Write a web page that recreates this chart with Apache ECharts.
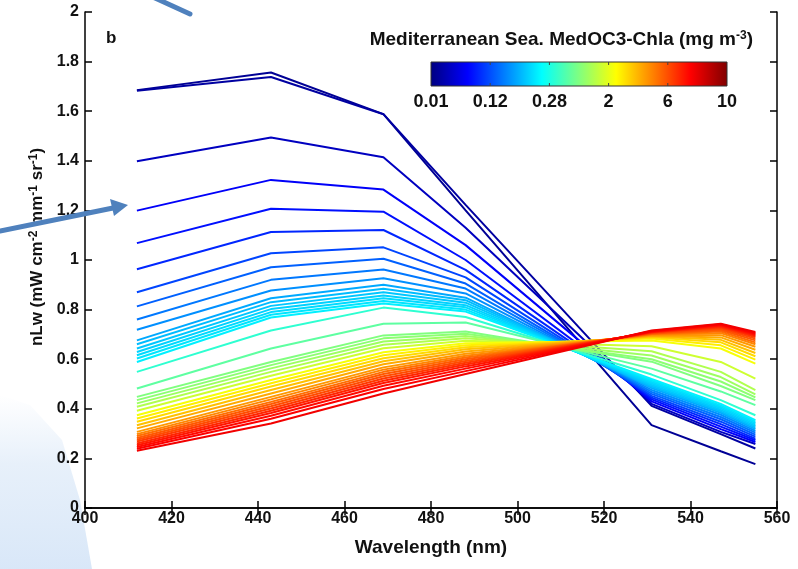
<!DOCTYPE html>
<html>
<head>
<meta charset="utf-8">
<script src="https://cdn.jsdelivr.net/npm/echarts@6/dist/echarts.min.js"></script>
<style>
    html, body { margin: 0; padding: 0; background: #fff; }
    #chart { width: 798px; height: 569px; }
</style>
</head>
<body>
<div id="chart"></div>
<script>
// MODIS bands (nm)
var wavelengths = [412, 443, 469, 488, 531, 547, 555];

// MedOC3 chlorophyll of each spectrum (mg m-3), clearest first
var chla = [0.013, 0.015, 0.022, 0.044, 0.057, 0.075, 0.11, 0.13, 0.144, 0.158,
    0.176, 0.191, 0.2, 0.209, 0.216, 0.226, 0.237, 0.34, 0.54, 0.75,
    0.85, 1.0, 1.2, 1.6, 2.2, 2.5, 2.8, 3.2, 3.6, 4.0,
    4.4, 5.0, 5.6, 6.0, 6.3, 6.6, 6.9, 7.1, 7.3, 7.5];

// nLw read at each band, same order as chla
var nlw412 = [1.685, 1.682, 1.398, 1.199, 1.068, 0.963, 0.870, 0.813, 0.760, 0.719,
    0.676, 0.660, 0.643, 0.629, 0.616, 0.603, 0.589, 0.549, 0.482, 0.448,
    0.435, 0.422, 0.408, 0.392, 0.374, 0.361, 0.348, 0.334, 0.321, 0.307,
    0.298, 0.290, 0.282, 0.275, 0.268, 0.260, 0.253, 0.246, 0.239, 0.231];
var nlw443 = [1.756, 1.738, 1.494, 1.323, 1.207, 1.113, 1.027, 0.971, 0.920, 0.877,
    0.846, 0.830, 0.815, 0.802, 0.790, 0.779, 0.768, 0.716, 0.643, 0.589,
    0.576, 0.563, 0.549, 0.533, 0.516, 0.503, 0.490, 0.476, 0.462, 0.448,
    0.438, 0.428, 0.419, 0.410, 0.401, 0.392, 0.383, 0.372, 0.360, 0.341];
var nlw469 = [1.588, 1.588, 1.414, 1.284, 1.195, 1.121, 1.051, 1.005, 0.962, 0.926,
    0.900, 0.884, 0.870, 0.857, 0.846, 0.835, 0.825, 0.808, 0.743, 0.696,
    0.684, 0.671, 0.658, 0.644, 0.628, 0.616, 0.604, 0.592, 0.580, 0.567,
    0.558, 0.549, 0.540, 0.531, 0.522, 0.513, 0.504, 0.493, 0.480, 0.462];
var nlw488 = [1.200, 1.222, 1.130, 1.060, 1.000, 0.960, 0.930, 0.905, 0.885, 0.865,
    0.848, 0.838, 0.828, 0.818, 0.809, 0.800, 0.792, 0.770, 0.748, 0.712,
    0.703, 0.694, 0.684, 0.674, 0.664, 0.656, 0.648, 0.640, 0.631, 0.622,
    0.614, 0.607, 0.600, 0.593, 0.586, 0.579, 0.571, 0.562, 0.552, 0.540];
var nlw531 = [0.334, 0.412, 0.420, 0.430, 0.438, 0.445, 0.452, 0.460, 0.468, 0.476,
    0.484, 0.490, 0.496, 0.502, 0.508, 0.514, 0.520, 0.538, 0.562, 0.590,
    0.600, 0.615, 0.632, 0.652, 0.675, 0.683, 0.688, 0.692, 0.695, 0.698,
    0.700, 0.702, 0.704, 0.706, 0.708, 0.709, 0.711, 0.712, 0.714, 0.716];
var nlw547 = [0.229, 0.298, 0.307, 0.318, 0.328, 0.338, 0.348, 0.358, 0.367, 0.376,
    0.384, 0.390, 0.396, 0.402, 0.408, 0.414, 0.420, 0.435, 0.470, 0.492,
    0.510, 0.528, 0.549, 0.589, 0.643, 0.656, 0.668, 0.678, 0.688, 0.697,
    0.705, 0.712, 0.718, 0.723, 0.728, 0.732, 0.736, 0.739, 0.741, 0.743];
var nlw555 = [0.177, 0.240, 0.258, 0.266, 0.273, 0.280, 0.288, 0.296, 0.304, 0.311,
    0.318, 0.324, 0.330, 0.336, 0.342, 0.348, 0.354, 0.374, 0.415, 0.435,
    0.446, 0.458, 0.475, 0.522, 0.582, 0.598, 0.612, 0.625, 0.638, 0.650,
    0.660, 0.668, 0.676, 0.683, 0.689, 0.694, 0.698, 0.702, 0.706, 0.710];

// colorbar ticks (equally spaced on the bar)
var cbarValues = [0.01, 0.12, 0.28, 2, 6, 10];
var cbarLabels = ['0.01', '0.12', '0.28', '2', '6', '10'];

(function (window) {
    var FONT = '"Liberation Sans", Arial, Helvetica, sans-serif';
    var bands = [nlw412, nlw443, nlw469, nlw488, nlw531, nlw547, nlw555];

    // position on the colorbar (0..1), log-interpolated between the ticks
    function barPos(c) {
        var n = cbarValues.length - 1;
        if (c <= cbarValues[0]) return 0;
        for (var i = 0; i < n; i++) {
            var a = cbarValues[i], b = cbarValues[i + 1];
            if (c <= b) {
                var f = Math.log(c / a) / Math.log(b / a);
                return (i + f) / n;
            }
        }
        return 1;
    }

    function jet(p) {
        function cl(v) { return Math.max(0, Math.min(1, v)); }
        var r = cl(1.5 - Math.abs(4 * p - 3));
        var g = cl(1.5 - Math.abs(4 * p - 2));
        var b = cl(1.5 - Math.abs(4 * p - 1));
        return 'rgb(' + Math.round(r * 255) + ',' + Math.round(g * 255) + ',' + Math.round(b * 255) + ')';
    }

    var series = chla.map(function (c, i) {
        return {
            type: 'line',
            name: 'chl ' + c,
            data: wavelengths.map(function (w, j) { return [w, bands[j][i]]; }),
            showSymbol: false,
            silent: true,
            lineStyle: { width: 2, color: jet(barPos(c)) },
            z: 2 + i
        };
    });

    // colorbar geometry
    var bar = { x: 431, y: 62, w: 296, h: 24 };
    var stops = [];
    for (var k = 0; k <= 32; k++) {
        stops.push({ offset: k / 32, color: jet(k / 32) });
    }

    var supStyle = { fontSize: 12, fontWeight: 'bold', fontFamily: FONT, verticalAlign: 'top', padding: [0, 0, 8, 0] };

    var graphics = [
        // pale slide background in the lower-left corner
        {
            type: 'polygon', z: 0, silent: true,
            shape: { points: [[0, 395], [30, 405], [62, 440], [80, 500], [92, 569], [0, 569]] },
            style: {
                fill: new echarts.graphic.LinearGradient(0, 0, 0, 1, [
                    { offset: 0, color: 'rgba(215,230,247,0)' },
                    { offset: 0.4, color: 'rgba(215,230,247,0.6)' },
                    { offset: 1, color: 'rgba(210,227,247,0.85)' }
                ])
            }
        },
        {
            type: 'rect', z: 100,
            shape: { x: bar.x, y: bar.y, width: bar.w, height: bar.h },
            style: {
                fill: new echarts.graphic.LinearGradient(0, 0, 1, 0, stops),
                stroke: '#333', lineWidth: 1
            }
        },
        {
            type: 'text', z: 100,
            style: {
                x: 753, y: 40, text: 'Mediterranean Sea. MedOC3-Chla (mg m{sup|-3})',
                align: 'right', verticalAlign: 'middle',
                font: 'bold 19px ' + FONT, fill: '#111',
                rich: { sup: supStyle }
            }
        },
        {
            type: 'text', z: 100,
            style: { x: 106, y: 38, text: 'b', verticalAlign: 'middle', font: 'bold 17px ' + FONT, fill: '#111' }
        },
        // annotation arrows on the slide
        {
            type: 'line', z: 200,
            shape: { x1: 0, y1: 231, x2: 113, y2: 208 },
            style: { stroke: '#4f81bd', lineWidth: 5, lineCap: 'round' }
        },
        {
            type: 'polygon', z: 200,
            shape: { points: [[128, 205], [110, 199], [114, 216]] },
            style: { fill: '#4f81bd' }
        },
        {
            type: 'line', z: 200,
            shape: { x1: 155, y1: -2, x2: 190, y2: 14 },
            style: { stroke: '#4f81bd', lineWidth: 5, lineCap: 'round' }
        }
    ];

    cbarLabels.forEach(function (lab, i) {
        var x = bar.x + bar.w * i / (cbarLabels.length - 1);
        graphics.push({
            type: 'text', z: 100,
            style: { x: x, y: 102, text: lab, align: 'center', verticalAlign: 'middle', font: 'bold 18px ' + FONT, fill: '#111' }
        });
        if (i > 0 && i < cbarLabels.length - 1) {
            graphics.push({
                type: 'line', z: 101,
                shape: { x1: x, y1: bar.y, x2: x, y2: bar.y + 3 },
                style: { stroke: '#444', lineWidth: 1 }
            });
            graphics.push({
                type: 'line', z: 101,
                shape: { x1: x, y1: bar.y + bar.h, x2: x, y2: bar.y + bar.h - 3 },
                style: { stroke: '#444', lineWidth: 1 }
            });
        }
    });

    var lineStyle = { color: '#000', width: 1.5 };
    var tickLabel = { color: '#111', fontSize: 16, fontWeight: 'bold', fontFamily: FONT };

    var chart = echarts.init(document.getElementById('chart'));
    chart.setOption({
        animation: false,
        backgroundColor: '#fff',
        grid: { left: 85, top: 12, width: 692, height: 496, containLabel: false },
        xAxis: [
            {
                type: 'value', min: 400, max: 560, interval: 20, position: 'bottom',
                name: 'Wavelength (nm)', nameLocation: 'middle', nameGap: 30,
                nameTextStyle: { color: '#111', fontSize: 19, fontWeight: 'bold', fontFamily: FONT },
                axisLine: { show: true, lineStyle: lineStyle },
                axisTick: { inside: true, length: 7, lineStyle: lineStyle },
                axisLabel: Object.assign({ margin: 3 }, tickLabel),
                splitLine: { show: false }
            },
            {
                type: 'value', min: 400, max: 560, interval: 20, position: 'top',
                axisLine: { show: true, lineStyle: lineStyle },
                axisTick: { inside: true, length: 7, lineStyle: lineStyle },
                axisLabel: { show: false },
                splitLine: { show: false }
            }
        ],
        yAxis: [
            {
                type: 'value', min: 0, max: 2, interval: 0.2, position: 'left',
                name: 'nLw (mW cm{sup|-2} mm{sup|-1} sr{sup|-1})', nameLocation: 'middle', nameGap: 31,
                nameTextStyle: {
                    color: '#111', fontSize: 17, fontWeight: 'bold', fontFamily: FONT,
                    padding: [0, 0, 0, 26],
                    rich: { sup: supStyle }
                },
                axisLine: { show: true, lineStyle: lineStyle },
                axisTick: { inside: true, length: 7, lineStyle: lineStyle },
                axisLabel: Object.assign({ margin: 6 }, tickLabel),
                splitLine: { show: false }
            },
            {
                type: 'value', min: 0, max: 2, interval: 0.2, position: 'right',
                axisLine: { show: true, lineStyle: lineStyle },
                axisTick: { inside: true, length: 7, lineStyle: lineStyle },
                axisLabel: { show: false },
                splitLine: { show: false }
            }
        ],
        series: series,
        graphic: graphics
    });
})(window);
</script>
</body>
</html>
